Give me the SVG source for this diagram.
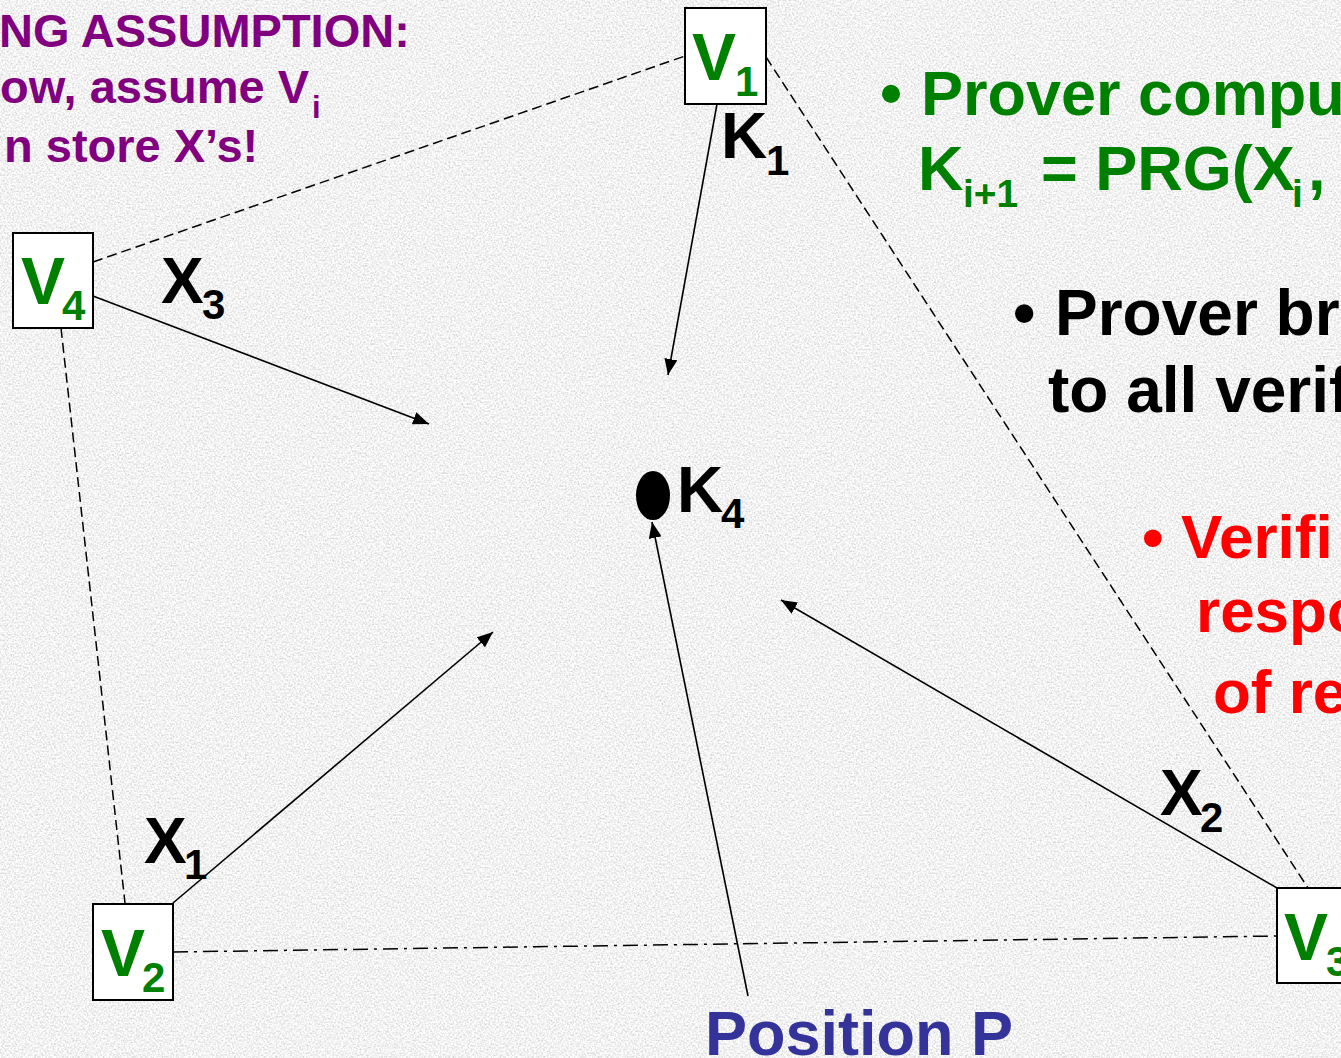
<svg xmlns="http://www.w3.org/2000/svg" width="1341" height="1058" viewBox="0 0 1341 1058">
<style>
  text { font-family: "Liberation Sans", Arial, sans-serif; font-weight: bold; }
  .box { fill: #ffffff; stroke: #000000; stroke-width: 2; }
  .vlab { fill: #008000; font-size: 66px; }
  .sub { font-size: 42px; }
  .lab { fill: #000000; font-size: 64px; }
  .arrow { stroke: #000000; stroke-width: 1.6; fill: none; marker-end: url(#ah); }
  .dash { stroke: #000000; stroke-width: 1.5; fill: none; stroke-dasharray: 10 5; }
  .dashdot { stroke: #000000; stroke-width: 1.5; fill: none; stroke-dasharray: 15 6 3 6; }
  .purple { fill: #800080; font-size: 47px; }
  .green { fill: #008000; font-size: 63px; }
  .black { fill: #000000; font-size: 64px; }
  .red { fill: #ff0000; font-size: 62px; }
  .blue { fill: #333399; font-size: 63px; }
</style>
<defs>
  <marker id="ah" markerUnits="userSpaceOnUse" markerWidth="17" markerHeight="13" refX="16" refY="6.5" orient="auto">
    <path d="M0,0 L16,6.5 L0,13 z" fill="#000000"/>
  </marker>
  <filter id="grain" x="0" y="0" width="100%" height="100%">
    <feTurbulence type="fractalNoise" baseFrequency="0.55" numOctaves="2" seed="7"/>
    <feColorMatrix type="matrix" values="0.7 0 0 0 0.54  0.7 0 0 0 0.54  0.7 0 0 0 0.54  0 0 0 0 1"/>
  </filter>
</defs>

<g id="background">
  <rect x="0" y="0" width="1341" height="1058" fill="#e4e4e4"/>
  <rect x="0" y="0" width="1341" height="1058" filter="url(#grain)"/>
</g>

<g id="connectors">
  <line class="dash" x1="93" y1="262" x2="685" y2="56"/>
  <line class="dash" x1="766" y1="57" x2="1308" y2="888"/>
  <line class="dash" x1="61" y1="328" x2="125" y2="903"/>
  <line class="dashdot" x1="173" y1="952" x2="1277" y2="936"/>
  <line class="arrow" x1="717" y1="104" x2="668" y2="375"/>
  <line class="arrow" x1="93" y1="296" x2="429" y2="424"/>
  <line class="arrow" x1="173" y1="903" x2="493" y2="632"/>
  <line class="arrow" x1="1277" y1="888" x2="781" y2="600"/>
  <line class="arrow" x1="748" y1="996" x2="652" y2="522"/>
</g>

<g id="edge-labels">
  <text class="lab" x="721" y="158">K<tspan class="sub" x="766" y="175">1</tspan></text>
  <text class="lab" x="161" y="303">X<tspan class="sub" x="202" y="319">3</tspan></text>
  <text class="lab" x="144" y="863">X<tspan class="sub" x="184" y="879">1</tspan></text>
  <text class="lab" x="1160" y="815">X<tspan class="sub" x="1200" y="832">2</tspan></text>
</g>

<g id="V1">
  <rect class="box" x="685" y="8" width="81" height="96"/>
  <text class="vlab" x="692" y="80">V<tspan class="sub" x="735" y="96">1</tspan></text>
</g>
<g id="V4">
  <rect class="box" x="13" y="233" width="80" height="95"/>
  <text class="vlab" x="21" y="304">V<tspan class="sub" x="62" y="320">4</tspan></text>
</g>
<g id="V2">
  <rect class="box" x="93" y="904" width="80" height="96"/>
  <text class="vlab" x="101" y="976">V<tspan class="sub" x="142" y="992">2</tspan></text>
</g>
<g id="V3">
  <rect class="box" x="1277" y="888" width="80" height="95"/>
  <text class="vlab" x="1284" y="960">V<tspan class="sub" x="1326" y="976">3</tspan></text>
</g>

<g id="K4">
  <ellipse cx="653" cy="495.5" rx="17" ry="24.5" fill="#000000"/>
  <text class="lab" x="677" y="512">K<tspan class="sub" x="721" y="528">4</tspan></text>
</g>

<g id="position-P">
  <text class="blue" x="705" y="1055">Position P</text>
</g>

<g id="assumption-text">
  <text class="purple" x="-1" y="47">NG ASSUMPTION:</text>
  <text class="purple" x="0" y="103">ow, assume V<tspan font-size="31px" x="312" y="118">i</tspan></text>
  <text class="purple" x="4" y="162">n store X’s!</text>
</g>

<g id="green-bullet">
  <text class="green" x="880" y="115">•</text>
  <text class="green" x="921" y="115">Prover compu</text>
  <text class="green" x="918" y="190">K<tspan font-size="39px" x="963" y="207">i+1</tspan><tspan x="1041" y="190">= PRG(X</tspan><tspan font-size="39px" x="1292" y="207">i</tspan><tspan x="1308" y="190">,</tspan></text>
</g>

<g id="black-bullet">
  <text class="black" x="1013" y="335">•</text>
  <text class="black" x="1055" y="335">Prover br</text>
  <text class="black" x="1048" y="412">to all verif</text>
</g>

<g id="red-bullet">
  <text class="red" x="1142" y="558">•</text>
  <text class="red" x="1181" y="558">Verifi</text>
  <text class="red" x="1196" y="632">respo</text>
  <text class="red" x="1213" y="713">of re</text>
</g>
</svg>
